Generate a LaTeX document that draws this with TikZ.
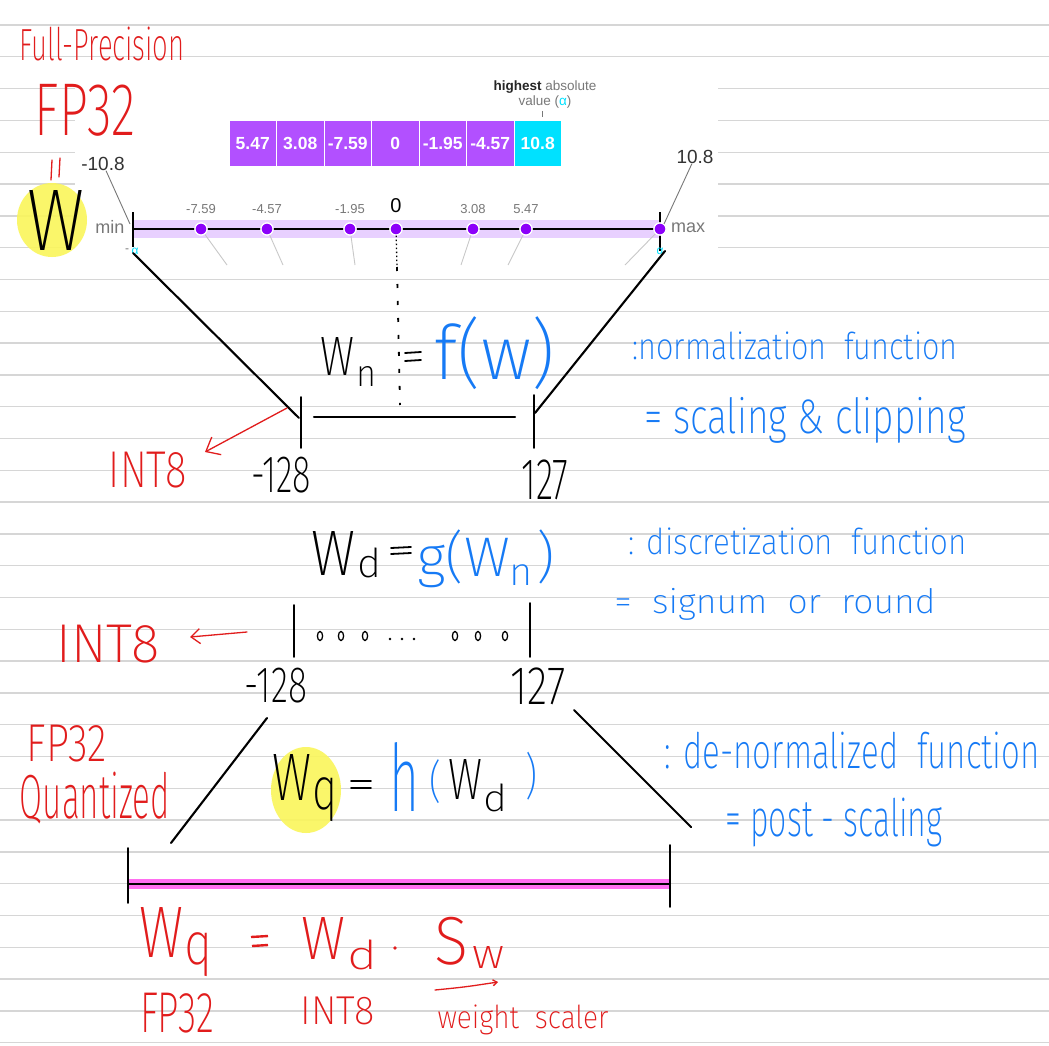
\documentclass[tikz,border=0pt]{standalone}
\usepackage{fontspec}
\setmainfont{Liberation Sans}
\IfFontExistsTF{Fira Sans ExtraLight}{\newfontfamily\hand{Fira Sans ExtraLight}}{%
  \IfFontExistsTF{Fira Sans Light}{\newfontfamily\hand{Fira Sans Light}}{\newfontfamily\hand{Fira Sans}}}
\usetikzlibrary{arrows.meta}
\definecolor{hred}{RGB}{225,28,28}
\definecolor{hblue}{RGB}{22,122,245}
\definecolor{boxp}{RGB}{178,80,255}
\definecolor{boxc}{RGB}{0,225,255}
\definecolor{dotp}{RGB}{140,0,250}
\definecolor{bandc}{RGB}{232,208,255}
\definecolor{pinkb}{RGB}{255,110,240}
\definecolor{paperline}{RGB}{214,214,214}
\definecolor{lbl}{RGB}{120,120,120}
\definecolor{glin}{RGB}{200,200,200}
\definecolor{hlyel}{RGB}{250,246,90}
\newcommand{\hwt}[3]{\resizebox*{#1pt}{#2pt}{\hand #3}}
\newcommand{\ssz}[1]{\fontsize{#1}{#1}\selectfont}
\tikzset{
  paper/.style={draw=paperline, line width=1.4pt},
  txt/.style={inner sep=0pt, outer sep=0pt},
  valbox/.style={draw=white, line width=1pt, minimum width=47.5pt, minimum height=45pt, inner sep=0pt, text=white, font=\bfseries\ssz{17.5}},
  dotlbl/.style={txt, text=lbl, font=\ssz{13}},
  pdot/.style={circle, fill=dotp, draw=white, line width=1.2pt, minimum size=12pt, inner sep=0pt},
  gline/.style={draw=glin, line width=0.9pt},
  ink/.style={draw=black, line width=2.1pt, line cap=round},
  thinink/.style={draw=black, line width=1.8pt, line cap=round},
  redink/.style={draw=hred, line width=1.3pt, line cap=round},
  redtxt/.style={txt, text=hred},
  bluetxt/.style={txt, text=hblue},
  blacktxt/.style={txt, text=black},
  hilite/.style={fill=hlyel, fill opacity=0.9, draw=none}
}
\begin{document}
\begin{tikzpicture}[x=1pt,y=-1pt]
\useasboundingbox (0,0) rectangle (1049,1046);
\fill[white] (0,0) rectangle (1049,1046);
% lined paper
\foreach \k in {0,...,32} \draw[paper] (0,{25+31.8*\k}) -- (1049,{25+31.8*\k});
% screenshot area
\fill[white] (75,66) rectangle (718,268);

% value boxes
\foreach \v [count=\i from 0] in {5.47,3.08,-7.59,0,-1.95,-4.57}
  \node[valbox, fill=boxp] (b\i) at ({252.75+47.5*\i},143.5) {\v};
\node[valbox, fill=boxc] (b6) at (537.75,143.5) {10.8};
\node[txt, font=\fontsize{13.5}{15}\selectfont, text=lbl, align=center] (hi) at (545,95)
  {\textbf{\textcolor{black!85}{highest}} absolute\\value (\textcolor{boxc}{α})};
\coordinate (hit) at (542,111);
\coordinate (hib) at (542,117);
\draw[draw=lbl, line width=0.9pt] (hit) -- (hib);

% number line
\fill[bandc] (133,220) rectangle (660,238);
\coordinate (nl) at (133,229);
\coordinate (nr) at (660,229);
\draw[black, line width=2pt] (nl) -- (nr);
\coordinate (tlt) at (133,212); \coordinate (tlb) at (133,247);
\coordinate (trt) at (660,212); \coordinate (trb) at (660,251);
\draw[black, line width=2.6pt] (tlt) -- (tlb);
\draw[black, line width=2.6pt] (trt) -- (trb);

% dots
\foreach \x in {201,267,350,396,473,526,660}
  \node[pdot] (d\x) at (\x,229) {};
\foreach \x/\e in {201/227,267/283,350/355,473/461,526/508,660/625}{
  \coordinate (g\x) at (\e,265);
  \draw[gline] (d\x) -- (g\x);
}
\foreach \x in {201,267,350,396,473,526,660}
  \node[pdot] at (\x,229) {};
\foreach \x/\t in {201/-7.59,267/-4.57,350/-1.95,473/3.08,526/5.47}
  \node[dotlbl] (l\x) at (\x,209) {\t};
\node[txt, font=\ssz{20}] (lzero) at (396,206) {0};

% min / max labels
\node[txt, font=\ssz{19}, text=black!80] (lmin) at (103,164) {-10.8};
\node[txt, font=\ssz{19}, text=black!80] (lmax) at (695,157) {10.8};
\coordinate (cmin) at (130,224);
\coordinate (cmax) at (664,224);
\draw[draw=lbl, line width=0.9pt] (lmin) -- (cmin);
\draw[draw=lbl, line width=0.9pt] (lmax) -- (cmax);
\node[txt, font=\ssz{18}, text=lbl] (tmin) at (110,227) {min};
\node[txt, font=\ssz{18}, text=lbl] (tmax) at (688,228) {max};
\node[txt, font=\ssz{12}, text=lbl] (am) at (127,251) {-};
\node[txt, font=\ssz{12}, text=boxc] (aL) at (135,251) {α};
\node[txt, font=\ssz{12}, text=boxc] (aR) at (660,251) {α};

% dotted zero line
\coordinate (zmid) at (397,267);
\coordinate (zend) at (400,405);
\draw[black, line width=1.3pt, dash pattern=on 1.5pt off 2.5pt] (d396) -- (zmid);
\draw[black, line width=1.8pt, dash pattern=on 4pt off 13pt] (zmid) -- (zend);

% ===== handwritten =====
% red left notes
\node[redtxt] (fullp) at (102,44) {\hwt{165}{34}{Full-Precision}};
\node[redtxt] (fp32a) at (85,110) {\hwt{100}{52}{FP32}};
\coordinate (eq1a) at (52,160); \coordinate (eq1b) at (51,180);
\coordinate (eq2a) at (60,158); \coordinate (eq2b) at (59,177);
\draw[redink] (eq1a) -- (eq1b);
\draw[redink] (eq2a) -- (eq2b);

% W highlighted
\fill[hilite] (52,220) ellipse [x radius=35, y radius=37];
\node[blacktxt] (Wbig) at (56,220) {\hwt{57}{60}{W}};

% trapezoid 1
\coordinate (dl1) at (133,253);
\coordinate (dl2) at (299,418);
\coordinate (dr1) at (665,251);
\coordinate (dr2) at (535,413);
\draw[ink] (dl1) -- (dl2);
\draw[ink] (dr1) -- (dr2);
\coordinate (k1t) at (301,397); \coordinate (k1b) at (301,448);
\coordinate (k2t) at (534,395); \coordinate (k2b) at (534,448);
\coordinate (h1a) at (314,417); \coordinate (h1b) at (515,417);
\draw[thinink] (k1t) -- (k1b);
\draw[thinink] (k2t) -- (k2b);
\draw[ink] (h1a) -- (h1b);

% W_n = f(w)
\node[blacktxt] (Wn1) at (337,356) {\hwt{34}{38}{W}};
\node[blacktxt] (Wn2) at (366,376) {\hwt{20}{20}{n}};
\coordinate (e1a) at (405,353); \coordinate (e1b) at (421,352);
\coordinate (e2a) at (405,361); \coordinate (e2b) at (421,360);
\draw[thinink] (e1a) -- (e1b);
\draw[thinink] (e2a) -- (e2b);
\node[bluetxt] (fw) at (495,353) {\hwt{120}{73}{f(w)}};
\node[bluetxt] (norm1) at (795,346) {\hwt{325}{28}{:normalization\ \ function}};
\node[bluetxt] (norm2) at (805,420) {\hwt{321}{46}{= scaling \& clipping}};
\node[blacktxt] (m128a) at (281,475) {\hwt{60}{36}{-128}};
\node[blacktxt] (p127a) at (545,480) {\hwt{47}{40}{127}};

% red INT8 arrow 1
\node[redtxt] (int8a) at (148,470) {\hwt{78}{36}{INT8}};
\coordinate (ar1s) at (287,408);
\coordinate (ar1e) at (205,452);
\draw[redink, -{Straight Barb[length=12pt,width=20pt]}] (ar1s) -- (ar1e);

% W_d = g(W_n)
\node[blacktxt] (Wd1) at (333,553) {\hwt{44}{44}{W}};
\node[blacktxt] (Wd2) at (369,563) {\hwt{24}{30}{d}};
\coordinate (e3a) at (391,548); \coordinate (e3b) at (411,547);
\coordinate (e4a) at (391,554); \coordinate (e4b) at (411,553);
\draw[thinink] (e3a) -- (e3b);
\draw[thinink] (e4a) -- (e4b);
\node[bluetxt] (gwn) at (486,559) {\hwt{137}{58}{g(W\textsubscript{n})}};
\node[bluetxt] (disc1) at (798,541) {\hwt{338}{27}{: discretization\ \ function}};
\node[bluetxt] (disc2) at (775,604) {\hwt{321}{32}{=\ \ signum\ \ or\ \ round}};

% discrete bar
\coordinate (bb1t) at (294,605); \coordinate (bb1b) at (294,657);
\coordinate (bb2t) at (530,603); \coordinate (bb2b) at (530,657);
\draw[thinink] (bb1t) -- (bb1b);
\draw[thinink] (bb2t) -- (bb2b);
\foreach \x in {320,341,365,455,478,505}
  \draw[black, line width=1.3pt] (\x,636) ellipse [x radius=2.6, y radius=4.5];
\foreach \x in {390,402,414}
  \fill[black] (\x,639) circle [radius=1.3];
\node[blacktxt] (m128b) at (276,686) {\hwt{62}{35}{-128}};
\node[blacktxt] (p127b) at (538,686) {\hwt{55}{37}{127}};

% red INT8 arrow 2
\node[redtxt] (int8b) at (108,644) {\hwt{103}{38}{INT8}};
\coordinate (ar2s) at (247,632);
\coordinate (ar2e) at (190,637);
\draw[redink, -{Straight Barb[length=9pt,width=15pt]}] (ar2s) -- (ar2e);

% trapezoid 2
\coordinate (q1a) at (267,718); \coordinate (q1b) at (171,843);
\coordinate (q2a) at (574,710); \coordinate (q2b) at (691,827);
\draw[ink] (q1a) -- (q1b);
\draw[ink] (q2a) -- (q2b);

% FP32 Quantized
\node[redtxt] (fp32b) at (67,744) {\hwt{80}{37}{FP32}};
\node[redtxt] (quant) at (95,798) {\hwt{150}{52}{Quantized}};

% W_q = h(W_d)
\fill[hilite] (306,790) ellipse [x radius=35, y radius=43];
\node[blacktxt] (Wq1) at (292,777) {\hwt{39}{46}{W}};
\node[blacktxt] (Wq2) at (325,800) {\hwt{25}{44}{q}};
\coordinate (e5a) at (351,781); \coordinate (e5b) at (371,781);
\coordinate (e6a) at (351,788); \coordinate (e6b) at (371,788);
\draw[thinink] (e5a) -- (e5b);
\draw[thinink] (e6a) -- (e6b);
\node[bluetxt] (hh) at (404,777) {\hwt{30}{69}{h}};
\node[bluetxt] (hp1) at (435,782) {\hwt{12}{44}{(}};
\node[blacktxt] (hW) at (465,779) {\hwt{34}{40}{W}};
\node[blacktxt] (hd) at (495,798) {\hwt{24}{28}{d}};
\node[bluetxt] (hp2) at (531,776) {\hwt{12}{48}{)}};
\node[bluetxt] (den1) at (852,751) {\hwt{375}{37}{: de-normalized\ \ function}};
\node[bluetxt] (den2) at (834,822) {\hwt{217}{49}{= post - scaling}};

% bottom bar
\coordinate (bl) at (128,884); \coordinate (br) at (670,884);
\draw[pinkb, line width=10pt] (bl) -- (br);
\draw[black, line width=2.6pt] (bl) -- (br);
\coordinate (bt1) at (128,848); \coordinate (bt2) at (128,903);
\coordinate (bt3) at (670,845); \coordinate (bt4) at (670,907);
\draw[thinink] (bt1) -- (bt2);
\draw[thinink] (bt3) -- (bt4);

% red formula
\node[redtxt] (rW1) at (162,932) {\hwt{44}{50}{W}};
\node[redtxt] (rq) at (199,955) {\hwt{28}{44}{q}};
\coordinate (r1a) at (251,937); \coordinate (r1b) at (268,936);
\coordinate (r2a) at (252,946); \coordinate (r2b) at (268,945);
\draw[draw=hred, line width=2.4pt] (r1a) -- (r1b);
\draw[draw=hred, line width=2.4pt] (r2a) -- (r2b);
\node[redtxt] (rW2) at (323,938) {\hwt{44}{42}{W}};
\node[redtxt] (rd) at (362,955) {\hwt{30}{30}{d}};
\node[circle, fill=hred, inner sep=0pt, minimum size=3.6pt] (rdot) at (395,948) {};
\node[redtxt] (rS) at (452,941) {\hwt{34}{48}{S}};
\node[redtxt] (rw) at (488,957) {\hwt{32}{22}{w}};
\node[redtxt] (fp32c) at (177,1013) {\hwt{74}{40}{FP32}};
\node[redtxt] (int8c) at (338,1011) {\hwt{74}{28}{INT8}};
\node[redtxt] (wsc) at (523,1020) {\hwt{171}{30}{weight\ \ scaler}};
\coordinate (ul1) at (435,990); \coordinate (ul2) at (498,982);
\draw[redink, -{Straight Barb[length=4pt,width=6pt]}] (ul1) .. controls (465,987) .. (ul2);
\end{tikzpicture}
\end{document}
